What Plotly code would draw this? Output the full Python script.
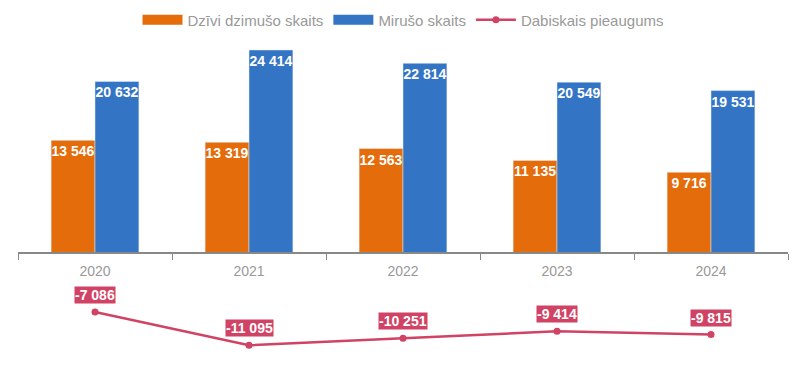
import plotly.graph_objects as go

years = ["2020", "2021", "2022", "2023", "2024"]
births = [13546, 13319, 12563, 11135, 9716]
deaths = [20632, 24414, 22814, 20549, 19531]
natural = [-7086, -11095, -10251, -9414, -9815]

ORANGE = "#E46C0A"
BLUE = "#3375C4"
CRIMSON = "#D04364"
GRAY = "#999999"
FONT = "Arial, Liberation Sans, sans-serif"


def fmt(v):
    return f"{v:,}".replace(",", " ")


ymin, ymax = -13470, 25616
xpos = (0 - ymin) / (ymax - ymin)

fig = go.Figure()
fig.add_trace(go.Bar(
    x=years, y=births, name="Dzīvi dzimušo skaits", marker_color=ORANGE,
    text=[f"<b>{fmt(v)}</b>" for v in births], textposition="inside", textangle=0,
    insidetextanchor="end", textfont=dict(color="white", size=14, family=FONT),
    constraintext="none", showlegend=False, hoverinfo="skip"))
fig.add_trace(go.Bar(
    x=years, y=deaths, name="Mirušo skaits", marker_color=BLUE,
    text=[f"<b>{fmt(v)}</b>" for v in deaths], textposition="inside", textangle=0,
    insidetextanchor="end", textfont=dict(color="white", size=14, family=FONT),
    constraintext="none", showlegend=False, hoverinfo="skip"))
# legend swatches
fig.add_trace(go.Scatter(x=[years[0]], y=[None], mode="lines", name="Dzīvi dzimušo skaits",
                         line=dict(color=ORANGE, width=10), hoverinfo="skip"))
fig.add_trace(go.Scatter(x=[years[0]], y=[None], mode="lines", name="Mirušo skaits",
                         line=dict(color=BLUE, width=10), hoverinfo="skip"))
fig.add_trace(go.Scatter(
    x=years, y=natural, name="Dabiskais pieaugums", mode="lines+markers",
    line=dict(color=CRIMSON, width=2.5), marker=dict(color=CRIMSON, size=7),
    cliponaxis=False))

for i, v in enumerate(natural):
    fig.add_annotation(x=i, y=v, text=f"<b>{fmt(v)}</b>", showarrow=False,
                       yanchor="bottom", yshift=8, bgcolor=CRIMSON, borderpad=0,
                       font=dict(color="white", size=14, family=FONT))

fig.update_layout(
    width=802, height=368,
    margin=dict(l=10, r=22, t=32, b=11, autoexpand=False),
    paper_bgcolor="white", plot_bgcolor="white",
    barmode="group", bargap=0.43, bargroupgap=0,
    uniformtext=dict(minsize=14, mode="show"),
    font=dict(family=FONT, color=GRAY, size=14),
    legend=dict(orientation="h", x=0.5, xanchor="center", y=1.0615, yanchor="middle",
                font=dict(color=GRAY, size=15), itemwidth=40, tracegroupgap=0),
    xaxis=dict(type="category", categoryorder="array", categoryarray=years,
               range=[-0.5, len(years) - 0.5], autorange=False,
               anchor="free", position=xpos, showline=True, linecolor="#888888",
               linewidth=1.5, ticks="outside", tickson="boundaries", ticklen=6,
               tickcolor="#888888", tickfont=dict(color=GRAY, size=14),
               ticklabelstandoff=5, automargin=False,
               showgrid=False, zeroline=False, tickangle=0),
    yaxis=dict(range=[ymin, ymax], visible=False, showgrid=False, zeroline=False),
)

fig.write_html("out.html")
